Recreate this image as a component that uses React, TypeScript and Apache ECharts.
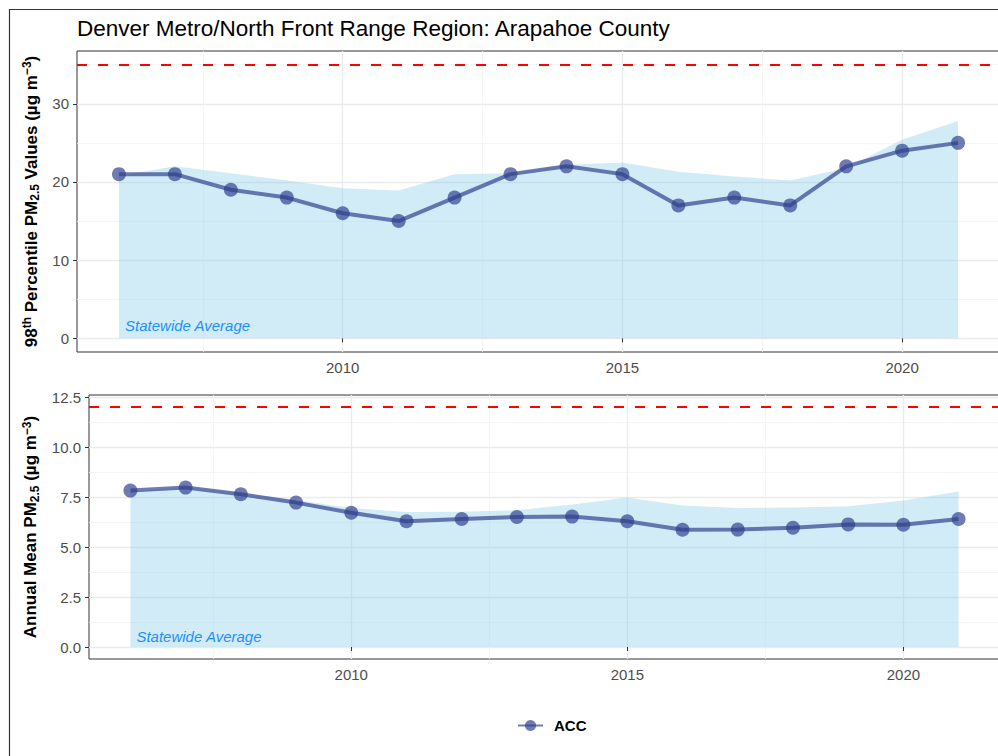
import React, { useEffect, useRef } from "react";
import * as echarts from "echarts";

const years = [2006, 2007, 2008, 2009, 2010, 2011, 2012, 2013, 2014, 2015, 2016, 2017, 2018, 2019, 2020, 2021];
const acc98 = [21, 21, 19, 18, 16, 15, 18, 21, 22, 21, 17, 18, 17, 22, 24, 25];
const state98 = [20.8, 22.0, 21.1, 20.2, 19.2, 18.9, 21.0, 21.1, 22.2, 22.5, 21.3, 20.7, 20.2, 21.8, 25.4, 27.8];
const accAnnual = [7.82, 7.97, 7.64, 7.22, 6.71, 6.29, 6.4, 6.5, 6.52, 6.29, 5.86, 5.87, 5.96, 6.13, 6.11, 6.4];
const stateAnnual = [7.8, 8.0, 7.7, 7.35, 6.95, 6.75, 6.76, 6.84, 7.12, 7.48, 7.07, 6.95, 6.97, 7.04, 7.32, 7.77];
const standard98 = 35;
const standardAnnual = 12;
const xTicks = [2010, 2015, 2020];
const xMinorTicks = [2007.5, 2012.5, 2017.5];
const yTicks98 = [0, 10, 20, 30];
const yMinor98 = [5, 15, 25, 35];
const yTicksAnnual = [0, 2.5, 5, 7.5, 10, 12.5];
const yMinorAnnual = [1.25, 3.75, 6.25, 8.75, 11.25];

const FONT = "'Liberation Sans', Arial, Helvetica, sans-serif";
const MAJOR = "#EBEBEB";
const MINOR = "#F2F2F2";
const ACC_COLOR = "rgba(44, 62, 140, 0.68)";
const AREA_COLOR = "rgba(135, 206, 235, 0.38)";

const pairs = (xs: number[], ys: number[]) => xs.map((x, i) => [x, ys[i]]);

function xMain(gridIndex: number) {
  return {
    type: "value", gridIndex, min: 2005.25, max: 2021.75, position: "bottom",
    axisLine: { show: false },
    axisTick: { show: true, length: 4, lineStyle: { color: "#333333", width: 1 }, customValues: xTicks },
    axisLabel: { customValues: xTicks, color: "#4D4D4D", fontSize: 15, fontFamily: FONT, margin: 8, formatter: (v: number) => String(v) },
    splitLine: { show: true, lineStyle: { color: MAJOR, width: 1.3 } },
  };
}
function xMinor(gridIndex: number) {
  return {
    type: "value", gridIndex, min: 2005.25, max: 2021.75, position: "bottom",
    axisLine: { show: false },
    axisTick: { show: false, customValues: xMinorTicks },
    axisLabel: { show: false, customValues: xMinorTicks },
    splitLine: { show: true, lineStyle: { color: MINOR, width: 0.8 } },
  };
}
function yMain(gridIndex: number, min: number, max: number, ticks: number[], fmt: (v: number) => string, name: string, nameGap: number) {
  return {
    type: "value", gridIndex, min, max, position: "left",
    axisLine: { show: false },
    axisTick: { show: true, length: 4, lineStyle: { color: "#333333", width: 1 }, customValues: ticks },
    axisLabel: { customValues: ticks, color: "#4D4D4D", fontSize: 15, fontFamily: FONT, margin: 8, formatter: fmt },
    splitLine: { show: true, lineStyle: { color: MAJOR, width: 1.3 } },
    name, nameLocation: "middle", nameRotate: 90, nameGap,
    nameTextStyle: {
      fontFamily: FONT, fontSize: 17, fontWeight: "bold", color: "#000000", lineHeight: 20,
      rich: {
        sup: { fontFamily: FONT, fontSize: 12, fontWeight: "bold", color: "#000000", verticalAlign: "top", lineHeight: 20 },
        sub: { fontFamily: FONT, fontSize: 12, fontWeight: "bold", color: "#000000", verticalAlign: "bottom", lineHeight: 20 },
      },
    },
  };
}
function yMinorAxis(gridIndex: number, min: number, max: number, ticks: number[]) {
  return {
    type: "value", gridIndex, min, max, position: "left",
    axisLine: { show: false },
    axisTick: { show: false, customValues: ticks },
    axisLabel: { show: false, customValues: ticks },
    splitLine: { show: true, lineStyle: { color: MINOR, width: 0.8 } },
  };
}

function areaSeries(xIdx: number, yIdx: number, values: number[], standard: number, labelCoord: number[]) {
  return {
    name: "Statewide Average", type: "line", xAxisIndex: xIdx, yAxisIndex: yIdx,
    data: pairs(years, values), symbol: "none", silent: true, z: 1,
    lineStyle: { width: 0 }, areaStyle: { color: AREA_COLOR, opacity: 1 },
    markLine: {
      silent: true, symbol: ["none", "none"], label: { show: false },
      lineStyle: { color: "#FF0000", type: [10, 11], width: 2 },
      data: [{ yAxis: standard }],
    },
    markPoint: {
      silent: true, symbol: "circle", symbolSize: 1, itemStyle: { color: "rgba(0,0,0,0)" },
      label: { show: true, position: "right", distance: 0, formatter: "Statewide Average", color: "#1E90FF", fontStyle: "italic", fontSize: 15, fontFamily: FONT },
      data: [{ coord: labelCoord, value: 0 }],
    },
  };
}
function accSeries(xIdx: number, yIdx: number, values: number[]) {
  return {
    name: "ACC", type: "line", xAxisIndex: xIdx, yAxisIndex: yIdx, z: 3,
    data: pairs(years, values), symbol: "circle", symbolSize: 14, showSymbol: true,
    lineStyle: { color: ACC_COLOR, width: 4 }, itemStyle: { color: ACC_COLOR, borderWidth: 0 },
  };
}

const option = {
  animation: false,
  backgroundColor: "#FFFFFF",
  textStyle: { fontFamily: FONT },
  title: {
    text: "Denver Metro/North Front Range Region: Arapahoe County",
    left: 77, top: 17, padding: 0,
    textStyle: { fontFamily: FONT, fontSize: 22.5, fontWeight: "normal", color: "#000000" },
  },
  legend: {
    data: ["ACC"], left: 512, top: 713, itemWidth: 25, itemHeight: 14,
    textStyle: { fontFamily: FONT, fontSize: 15, fontWeight: "bold", color: "#000000", padding: [0, 0, 0, 6] },
  },
  graphic: [
    { type: "rect", silent: true, shape: { x: 9.5, y: 9.5, width: 1200, height: 1000 }, style: { fill: "none", stroke: "#333333", lineWidth: 1.2 } },
  ],
  grid: [
    { left: 77, top: 51, width: 923, height: 301, outerBoundsMode: "none", containLabel: false, show: true, backgroundColor: "transparent", borderColor: "#333333", borderWidth: 1 },
    { left: 89, top: 395, width: 911, height: 264, outerBoundsMode: "none", containLabel: false, show: true, backgroundColor: "transparent", borderColor: "#333333", borderWidth: 1 },
  ],
  xAxis: [xMain(0), xMinor(0), xMain(1), xMinor(1)],
  yAxis: [
    yMain(0, -1.75, 36.75, yTicks98, (v: number) => String(v), "98{sup|th} Percentile PM{sub|2.5} Values (µg m{sup|−3})", 34),
    yMinorAxis(0, -1.75, 36.75, yMinor98),
    yMain(1, -0.6, 12.6, yTicksAnnual, (v: number) => v.toFixed(1), "Annual Mean PM{sub|2.5} (µg m{sup|−3})", 46),
    yMinorAxis(1, -0.6, 12.6, yMinorAnnual),
  ],
  series: [
    areaSeries(0, 0, state98, standard98, [2006.1, 1.65]),
    accSeries(0, 0, acc98),
    areaSeries(2, 2, stateAnnual, standardAnnual, [2006.1, 0.55]),
    accSeries(2, 2, accAnnual),
  ],
};

export default function App() {
  const ref = useRef<HTMLDivElement>(null);
  useEffect(() => {
    const chart = echarts.init(ref.current!, null, { renderer: "svg" });
    chart.setOption(option as any);
    return () => chart.dispose();
  }, []);
  return <div ref={ref} style={{ position: "absolute", left: 0, top: 0, width: 998, height: 756, background: "#fff" }} />;
}
